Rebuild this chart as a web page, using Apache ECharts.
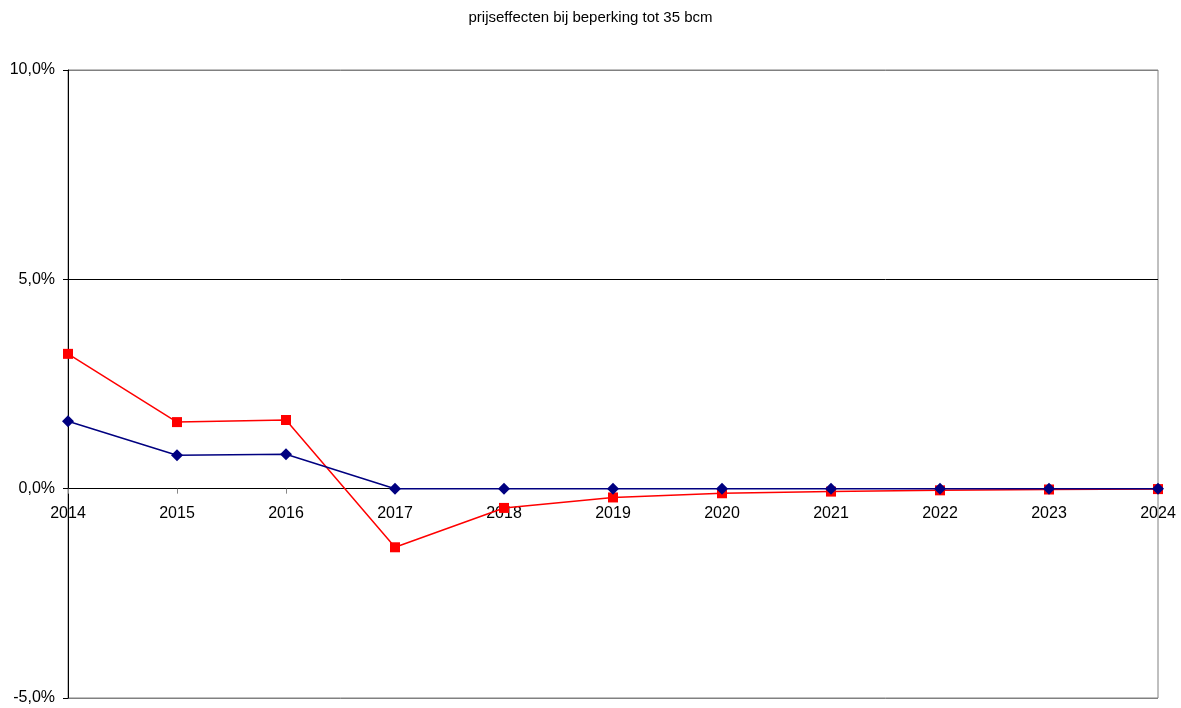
<!DOCTYPE html>
<html><head><meta charset="utf-8">
<script src="https://cdn.jsdelivr.net/npm/echarts@6/dist/echarts.min.js"></script>
<style>html,body{margin:0;padding:0;background:#fff}#c{width:1181px;height:708px}</style>
</head><body><div id="c"></div>
<script>
const years = ['2014','2015','2016','2017','2018','2019','2020','2021','2022','2023','2024'];
const redValues = [3.22, 1.59, 1.64, -1.40, -0.46, -0.21, -0.11, -0.07, -0.04, -0.02, -0.01];
const blueValues = [1.61, 0.80, 0.82, 0, 0, 0, 0, 0, 0, 0, 0];
const yTicks = {min: -5, max: 10, step: 5};
const gridTop = 70, gridBottom = 10, H = 708;
const plotH = H - gridTop - gridBottom;
const zeroOffset = -plotH * (0 - yTicks.min) / (yTicks.max - yTicks.min);
const chart = echarts.init(document.getElementById('c'));
chart.setOption({
  backgroundColor:'#fff',
  animation:false,
  title:{text:'prijseffecten bij beperking tot 35 bcm',left:'center',top:5,
    textStyle:{fontFamily:'Liberation Sans',fontSize:15,fontWeight:'normal',color:'#000'}},
  grid:{left:68,right:23,top:gridTop,bottom:gridBottom,show:true,borderColor:'#808080',borderWidth:1,
    outerBoundsMode:'none',containLabel:false},
  xAxis:{type:'category',data:years,boundaryGap:false,position:'bottom',offset:zeroOffset,
    axisLine:{onZero:false,lineStyle:{color:'#000',width:1}},
    axisTick:{show:true,length:5,lineStyle:{color:'#888'}},
    axisLabel:{margin:17,fontFamily:'Liberation Sans',fontSize:16,color:'#000'},
    splitLine:{show:false}},
  yAxis:{type:'value',min:yTicks.min,max:yTicks.max,interval:yTicks.step,
    axisLine:{show:true,lineStyle:{color:'#000'}},
    axisTick:{show:true,length:5,lineStyle:{color:'#000'}},
    axisLabel:{margin:13,fontFamily:'Liberation Sans',fontSize:16,color:'#000',
      formatter:v=>v.toFixed(1).replace('.',',')+'%'},
    splitLine:{show:true,lineStyle:{color:['#808080','#000','#000','#808080'],width:1}}},
  series:[
    {name:'red',type:'line',data:redValues,symbol:'rect',symbolSize:10,
      lineStyle:{color:'#ff0000',width:1.5},itemStyle:{color:'#ff0000'}},
    {name:'blue',type:'line',data:blueValues,symbol:'diamond',symbolSize:12,
      lineStyle:{color:'#000080',width:1.5},itemStyle:{color:'#000080'}}
  ]
});
</script></body></html>
